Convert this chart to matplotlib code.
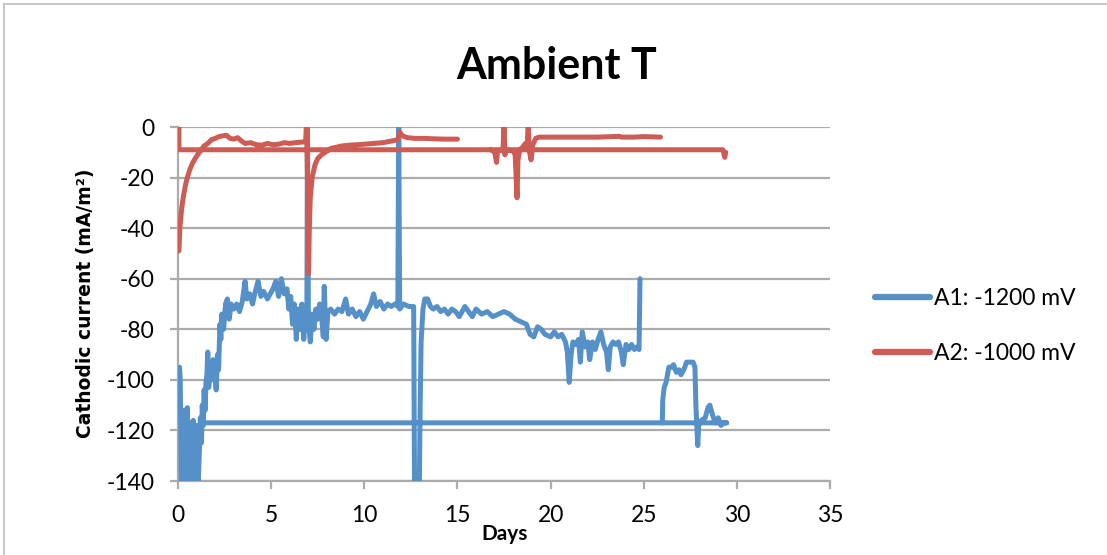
import numpy as np
import matplotlib
matplotlib.use("Agg")
import matplotlib.pyplot as plt
from matplotlib.lines import Line2D

plt.rcParams["axes.unicode_minus"] = False

# ---- data: cathodic current (mA/m²) vs time (days); NaN separates logged chunks ----
a1_days = [
    0.08, 0.12, 0.18, 0.22, 0.28, 0.33, 0.38, 0.45, 0.5, 0.55, 0.62, 0.68, 0.75, 0.82, 0.88,
    0.95, 1.0, 1.08, 1.15, 1.2, 1.26, 1.3, 1.36, 1.4, 1.46, 1.5, 1.55, 1.6, 1.65, 1.72, 1.8,
    1.88, 1.95, 2.05, 2.12, 2.18, 2.25, 2.3, 2.35, 2.45, 2.55, 2.65, 2.75, 2.85,
    3.0, 3.15, 3.3, 3.45, 3.6, 3.7, 3.85, 4.0, 4.15, 4.3, 4.45, 4.6, 4.8, 4.95, 5.1, 5.25,
    5.4, 5.55, 5.7, 5.85, 5.95, 6.05, 6.15, 6.25, 6.35, 6.45, 6.55, 6.65, 6.75, 6.85, 6.92,
    6.95, 7.0, 7.1, 7.2, 7.3, 7.4, 7.5, 7.6, 7.7, 7.8, 7.85, 7.95, 8.05, 8.2, 8.4, 8.6, 8.8,
    9.0, 9.15, 9.35, 9.55, 9.75, 9.95, 10.15, 10.35, 10.5, 10.65, 10.85, 11.05, 11.25,
    11.45, 11.65, 11.8, 11.85, 11.9, 12.1, 12.4, 12.65, 12.7, 12.95, 13.0, 13.05, 13.15,
    13.25, 13.4, 13.55, 13.7, 13.9, 14.1, 14.3, 14.5, 14.7, 14.9, 15.1, 15.4, 15.6, 15.8,
    16.0, 16.3, 16.6, 16.9, 17.2, 17.5, 17.8, 18.1, 18.4, 18.7, 18.9, 19.1, 19.3, 19.5,
    19.7, 20.0, 20.2, 20.4, 20.6, 20.8, 20.9, 21.0, 21.1, 21.2, 21.35, 21.5, 21.6, 21.7,
    21.85, 22.0, 22.1, 22.25, 22.4, 22.55, 22.7, 22.85, 23.0, 23.1, 23.2, 23.35, 23.5,
    23.65, 23.8, 23.9, 24.05, 24.2, 24.35, 24.5, 24.65, 24.75, 24.8,
    np.nan,
    26.0, 26.02, 26.1, 26.2, 26.35, 26.5, 26.6, 26.75, 26.9, 27.0, 27.15, 27.3, 27.5,
    27.65, 27.75, 27.8, 27.9, 27.95, 28.1, 28.3, 28.45, 28.55, 28.7, 28.85, 29.0, 29.15,
    29.3, 29.45, 1.5,
]
a1_current = [
    -95, -100, -142, -118, -142, -112, -128, -142, -111, -126, -142, -117, -142, -116, -130,
    -142, -118, -142, -128, -115, -125, -110, -118, -104, -112, -101, -98, -89, -103, -95, -100,
    -92, -96, -104, -90, -96, -78, -84, -74, -80, -70, -68, -76, -70,
    -72, -70, -73, -69, -61, -68, -66, -70, -65, -61, -67, -65, -68, -66, -64, -61,
    -67, -60, -66, -64, -72, -67, -78, -70, -84, -72, -80, -70, -84, -75, -70,
    2, -76, -85, -74, -80, -72, -76, -70, -74, -83, -63, -84, -73, -72, -74, -72, -73,
    -68, -74, -72, -75, -73, -76, -73, -70, -66, -71, -69, -72, -70,
    -71, -70, -71, 2, -72, -70, -71, -71, -145, -145, -110, -85, -72,
    -68, -68, -71, -72, -71, -73, -72, -74, -72, -73, -75, -71, -73, -75,
    -72, -74, -73, -75, -74, -73, -74, -76, -77, -78, -82, -83, -79, -80,
    -82, -83, -81, -83, -82, -85, -89, -101, -90, -85, -86, -84, -93, -81,
    -87, -85, -92, -85, -88, -84, -81, -86, -89, -96, -87, -85, -86,
    -85, -89, -94, -86, -88, -86, -88, -87, -88, -60,
    np.nan,
    -117, -108, -103, -101, -95, -95, -94, -97, -96, -98, -96, -93, -93,
    -93, -95, -110, -126, -118, -116, -115, -111, -110, -114, -117, -115, -118,
    -117, -117, -117,
]

a2_days = [
    0.05, 0.05, 29.25, 29.35, 29.4,
    np.nan,
    0.05, 0.1, 0.2, 0.3, 0.4, 0.5, 0.65, 0.8, 1.0, 1.2, 1.4, 1.6, 1.8, 2.0, 2.2, 2.4, 2.6,
    2.8, 3.0, 3.2, 3.4, 3.6, 3.9, 4.2, 4.5, 4.8, 5.1, 5.4, 5.7, 6.0, 6.3, 6.6, 6.85, 6.9,
    6.95, 7.0, 7.05, 7.1, 7.2, 7.35, 7.5, 7.7, 7.9, 8.2, 8.5, 8.8, 9.2, 9.6, 10.0, 10.5,
    11.0, 11.5, 11.8, 11.9, 12.05, 12.3, 12.7, 13.2, 13.8, 14.4, 15.0,
    np.nan,
    16.8, 17.0, 17.1, 17.15, 17.45, 17.5, 17.55, 17.6, 18.0, 18.1, 18.2, 18.25, 18.35,
    18.5, 18.65, 18.75, 18.8, 18.85, 18.95, 19.05, 19.2, 19.4, 20.5, 21.5, 22.5, 23.7,
    23.8, 24.5, 25.0, 25.9,
]
a2_current = [
    2, -9, -9, -12, -10,
    np.nan,
    -49, -40, -32, -27, -23, -20, -16.5, -14, -11.5, -9.5, -7.5, -6.5, -5, -4.5, -3.8, -3.5, -3.3,
    -4.5, -4.8, -4.2, -5.5, -6.5, -6.2, -7, -7.2, -6.5, -7, -6.8, -6.2, -6.5, -6.2, -6, -5.8, 2,
    -20, -58, -40, -28, -20, -15, -12.5, -11, -10, -8.5, -8, -7.5, -7.2, -7, -6.8, -6.5,
    -6.2, -5.5, -5, -2, -3.5, -4.2, -4.5, -4.5, -4.7, -4.8, -4.8,
    np.nan,
    -9, -10, -14, -9.5, -9, 2, -11, -9, -9.5, -11, -28, -13, -9,
    -8, -6.5, -7, 2, -9, -13, -7, -4.5, -4, -4, -4, -4, -3.7,
    -4, -4, -3.8, -4,
]

series_labels = ["A1: -1200 mV", "A2: -1000 mV"]
x_ticks = [0, 5, 10, 15, 20, 25, 30, 35]
y_ticks = [-140, -120, -100, -80, -60, -40, -20, 0]

BLUE = "#5591C8"
RED = "#CD5C55"
GRID = "#ABABAB"

W, H = 1107, 555
fig = plt.figure(figsize=(W / 100, H / 100), dpi=100)
ax = fig.add_axes([178 / W, 1 - 481 / H, (830 - 178) / W, (481 - 127) / H])

ax.plot(a1_days, a1_current, color=BLUE, lw=3.6, solid_capstyle="round",
        solid_joinstyle="round", label=series_labels[0], zorder=3)
ax.plot(a2_days, a2_current, color=RED, lw=3.6, solid_capstyle="round",
        solid_joinstyle="round", label=series_labels[1], zorder=4)

ax.set_xlim(0, 35)
ax.set_ylim(-140, 0)
ax.set_xticks(x_ticks)
ax.set_yticks(y_ticks)
ax.grid(axis="y", color=GRID, lw=1.6, zorder=1)
ax.set_axisbelow(True)
for side in ("top", "right"):
    ax.spines[side].set_visible(False)
for side in ("left", "bottom"):
    ax.spines[side].set_color(GRID)
    ax.spines[side].set_linewidth(1.6)
ax.tick_params(axis="both", colors=GRID, width=1.6, length=5.5, direction="out",
               labelcolor="black", labelsize=16.5)
for lab in ax.get_xticklabels() + ax.get_yticklabels():
    lab.set_family("Lato")
ax.tick_params(axis="x", pad=12)
ax.tick_params(axis="y", pad=11.5)

ax.set_xlabel("Days", fontsize=15, fontweight="bold", family="Lato")
ax.xaxis.set_label_coords((505 - 178) / 652, (481 - 524) / 354)
ax.set_ylabel("Cathodic current (mA/m²)", fontsize=13.5, fontweight="bold",
              family="DejaVu Sans")
ax.yaxis.set_label_coords((95 - 178) / 652, (481 - 303) / 354)

fig.text(557 / W, 1 - 66 / H, "Ambient T", ha="center", va="center",
         fontsize=31, fontweight="bold", family="Lato")

leg = ax.legend(loc="center left", bbox_to_anchor=(866 / W, 1 - 326 / H),
                bbox_transform=fig.transFigure, frameon=False,
                prop={"family": "Lato", "size": 16.5}, handlelength=2.4,
                handletextpad=0.15, labelspacing=1.5, borderaxespad=0)
for h in leg.legend_handles:
    h.set_linewidth(4.5)
    h.set_solid_capstyle("round")

# outer chart frame
fig.add_artist(Line2D([4 / W, 1], [1 - 4 / H, 1 - 4 / H], transform=fig.transFigure,
                      color="#C8C8C8", lw=1.5))
fig.add_artist(Line2D([4 / W, 4 / W], [0, 1 - 4 / H], transform=fig.transFigure,
                      color="#C8C8C8", lw=1.5))

fig.savefig("out.png", dpi=100)
